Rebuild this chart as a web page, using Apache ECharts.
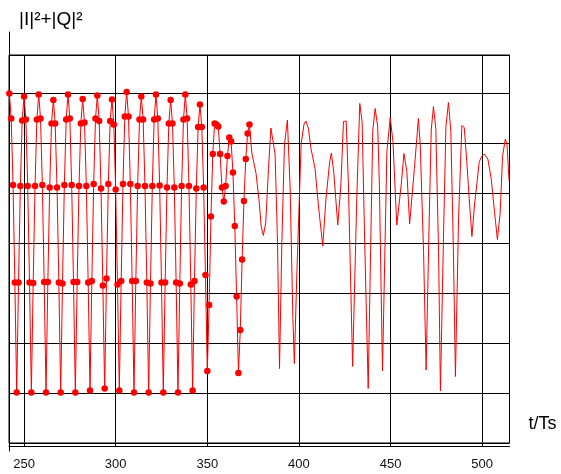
<!DOCTYPE html>
<html>
<head>
<meta charset="utf-8">
<script src="https://cdn.jsdelivr.net/npm/echarts@6/dist/echarts.min.js"></script>
<style>
  html, body { margin: 0; padding: 0; background: #fff; }
  #chart { width: 561px; height: 474px; }
</style>
</head>
<body>
<div id="chart"></div>
<script>
// ---- data (t in symbol periods Ts, value in plot units) ----
const markedStartT = 242; // first sampled instant (one sample per Ts)
const markedValues = [
  6.99, 6.49, 5.16, 3.21, 1.01, 3.21, 5.14, 6.45,
  6.93, 6.47, 5.14, 3.21, 1.01, 3.20, 5.14, 6.47,
  6.97, 6.49, 5.16, 3.22, 1.01, 3.22, 5.11, 6.39,
  6.86, 6.39, 5.11, 3.21, 1.01, 3.19, 5.16, 6.47,
  6.97, 6.49, 5.16, 3.22, 1.01, 3.22, 5.14, 6.39,
  6.88, 6.41, 5.14, 3.21, 1.05, 3.24, 5.18, 6.49,
  6.95, 6.44, 5.09, 3.15, 1.09, 3.29, 5.18, 6.44,
  6.87, 6.37, 5.07, 3.17, 1.05, 3.24, 5.18, 6.53,
  7.02, 6.53, 5.18, 3.24, 1.01, 3.24, 5.14, 6.47,
  6.93, 6.47, 5.14, 3.21, 1.01, 3.19, 5.14, 6.47,
  6.97, 6.49, 5.15, 3.21, 1.01, 3.21, 5.11, 6.39,
  6.86, 6.39, 5.11, 3.21, 1.01, 3.19, 5.14, 6.47,
  6.97, 6.49, 5.14, 3.17, 1.05, 3.24, 5.09, 6.32,
  6.77, 6.32, 5.11, 3.36, 1.44, 2.76, 4.53, 5.78,
  6.39, 6.37, 6.33, 5.78, 5.11, 4.83, 5.14, 5.74,
  6.11, 6.03, 5.41, 4.34, 2.93, 1.40, 2.26, 3.67,
  4.84, 5.68, 6.19, 6.37
];
const lineT = [
  373.0, 374.3, 376.6, 378.3, 379.4, 380.6, 381.9, 383.4, 384.7, 385.5,
  387.0, 388.3, 389.4, 390.7, 392.1, 393.7, 395.2, 396.7, 397.5, 398.9,
  401.2, 402.8, 403.8, 405.2, 406.5, 408.8, 410.6, 413.0, 414.7, 416.8,
  417.7, 419.0, 421.2, 422.9, 424.3, 425.8, 427.0, 429.3, 431.6, 433.2,
  434.5, 435.8, 437.8, 439.1, 440.3, 441.6, 443.0, 443.9, 445.6, 448.0,
  449.8, 451.3, 453.4, 454.3, 455.8, 457.3, 458.9, 460.4, 461.2, 463.0,
  465.2, 466.2, 468.0, 469.4, 471.1, 472.2, 473.4, 474.7, 476.2, 477.2,
  478.9, 480.2, 481.6, 482.9, 484.3, 485.4, 487.1, 488.9, 490.2, 491.6,
  492.9, 494.4, 495.8, 497.1, 498.4, 499.8, 501.1, 503.1, 504.9, 506.7,
  508.3, 509.8, 511.1, 512.6, 513.5, 514.7
];
const lineValues = [
  6.37, 5.80, 5.39, 4.83, 4.33, 4.15, 4.41, 5.49, 6.30, 6.30,
  5.78, 4.03, 1.49, 4.03, 5.96, 6.46, 5.10, 2.49, 1.59, 3.43,
  5.98, 6.38, 6.44, 6.29, 5.90, 5.49, 4.76, 3.94, 4.86, 5.63,
  5.80, 5.42, 4.36, 5.16, 6.43, 6.44, 5.16, 1.53, 4.94, 6.79,
  6.41, 4.16, 1.09, 3.83, 6.26, 6.69, 6.32, 5.16, 1.44, 5.83,
  6.51, 6.03, 4.36, 4.35, 5.16, 5.79, 5.43, 4.38, 4.36, 5.49,
  6.49, 5.96, 3.83, 1.46, 4.49, 6.26, 6.73, 6.29, 3.83, 1.04,
  4.16, 6.33, 6.81, 6.23, 3.83, 1.33, 4.49, 6.35, 6.31, 5.63,
  4.89, 4.13, 4.76, 5.19, 5.63, 5.73, 5.78, 5.68, 5.29, 4.63,
  4.07, 4.59, 5.73, 6.08, 5.99, 5.23
];
const xTickLabels = [250, 300, 350, 400, 450, 500];
const xName = 't/Ts';
const yName = '|I|²+|Q|²';

// ---- build ----
const markedData = markedValues.map((v, i) => [markedStartT + i, v]);
const lineData = lineT.map((t, i) => [t, lineValues[i]]);
const FONT = 'Liberation Sans, Arial, Helvetica, sans-serif';

const chart = echarts.init(document.getElementById('chart'), null, { renderer: 'canvas' });
chart.setOption({
  animation: false,
  backgroundColor: '#ffffff',
  grid: [
    { left: 9, right: 51.5, top: 55, bottom: 31, show: true, borderColor: '#000', borderWidth: 1, backgroundColor: 'transparent' },
    { left: 9, width: 1, top: 32, bottom: 23 }
  ],
  xAxis: [
    {
      type: 'value', gridIndex: 0, min: 241.8, max: 514.9, splitNumber: 5, offset: 3,
      axisLine: { show: true, onZero: false, lineStyle: { color: '#000', width: 1 } },
      axisTick: { show: true, inside: true, length: 3, lineStyle: { color: '#000' } },
      axisLabel: {
        showMinLabel: false, showMaxLabel: false, margin: 12, fontSize: 13, color: '#111', fontFamily: FONT,
        formatter: v => (xTickLabels.indexOf(v) >= 0 ? String(v) : '')
      },
      splitLine: { show: true, lineStyle: { color: '#000', width: 1 } },
      name: xName, nameLocation: 'end', nameGap: 19,
      nameTextStyle: { fontSize: 18, color: '#000', fontFamily: FONT, align: 'left', verticalAlign: 'bottom', padding: [0, 0, 13, 0] }
    },
    { type: 'value', gridIndex: 1, show: false, min: 0, max: 1 }
  ],
  yAxis: [
    {
      type: 'value', gridIndex: 0, min: 0, max: 7.76, interval: 1,
      axisLine: { show: false }, axisTick: { show: false }, axisLabel: { show: false },
      splitLine: { show: true, lineStyle: { color: '#000', width: 1 } }
    },
    {
      type: 'value', gridIndex: 1, min: 0, max: 1,
      axisLine: { show: true, onZero: false, lineStyle: { color: '#000', width: 1 } },
      axisTick: { show: false }, axisLabel: { show: false }, splitLine: { show: false },
      name: yName, nameLocation: 'end', nameGap: 3,
      nameTextStyle: { fontSize: 19, color: '#000', fontFamily: FONT, align: 'left', padding: [0, 0, 0, 10] }
    }
  ],
  series: [
    {
      type: 'line', xAxisIndex: 0, yAxisIndex: 0, data: markedData,
      symbol: 'circle', symbolSize: 6.5, showAllSymbol: true,
      itemStyle: { color: '#ff0000' }, lineStyle: { color: '#ff0000', width: 1 },
      silent: true, z: 3
    },
    {
      type: 'line', xAxisIndex: 0, yAxisIndex: 0, data: lineData,
      symbol: 'none', lineStyle: { color: '#ff0000', width: 1 },
      silent: true, z: 3
    }
  ]
});
</script>
</body>
</html>
